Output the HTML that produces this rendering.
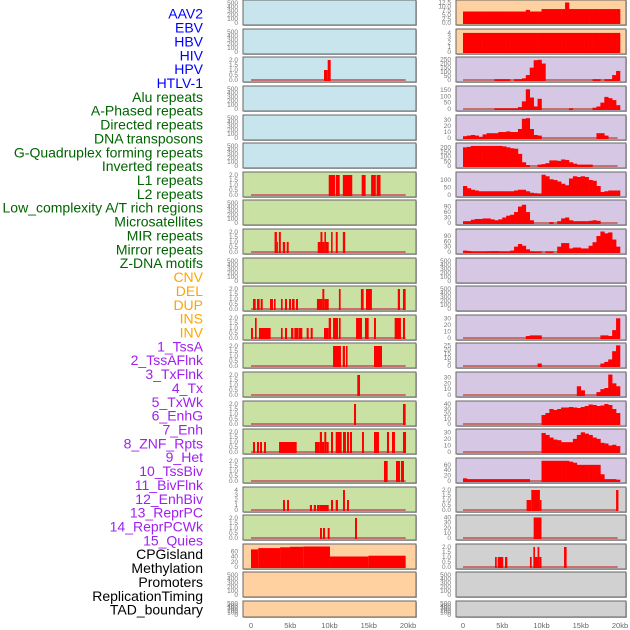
<!DOCTYPE html>
<html><head><meta charset="utf-8"><style>
html,body{margin:0;padding:0;background:#fff;width:630px;height:630px;overflow:hidden}
svg{display:block;font-family:"Liberation Sans",sans-serif}
</style></head><body>
<svg id="chart" width="630" height="630" viewBox="0 0 630 630"></svg>
<script>
// ---- labels ----
const labelNames = ["AAV2","EBV","HBV","HIV","HPV","HTLV-1","Alu repeats","A-Phased repeats","Directed repeats","DNA transposons","G-Quadruplex forming repeats","Inverted repeats","L1 repeats","L2 repeats","Low_complexity A/T rich regions","Microsatellites","MIR repeats","Mirror repeats","Z-DNA motifs","CNV","DEL","DUP","INS","INV","1_TssA","2_TssAFlnk","3_TxFlnk","4_Tx","5_TxWk","6_EnhG","7_Enh","8_ZNF_Rpts","9_Het","10_TssBiv","11_BivFlnk","12_EnhBiv","13_ReprPC","14_ReprPCWk","15_Quies","CPGisland","Methylation","Promoters","ReplicationTiming","TAD_boundary"];
const labelGroups = [0,0,0,0,0,0,1,1,1,1,1,1,1,1,1,1,1,1,1,2,2,2,2,2,3,3,3,3,3,3,3,3,3,3,3,3,3,3,3,4,4,4,4,4];
const groupColors = ["#0000ff","#006400","#ffa500","#a020f0","#000000"];
const xTicks = [0,5,10,15,20];
const xTickLabels = ["0","5kb","10kb","15kb","20kb"];

// ---- left column sparse segments [startKb, endKb, value] ----
const segHIV = [[9.3,9.77,1],[9.77,10.15,2]];
const segL1 = [[9.9,10.7,2],[10.8,11.3,2],[11.7,12.9,2],[14.1,14.6,2],[15.3,15.9,2],[16.0,16.5,2]];
const segMIR = [[3.0,3.3,2],[3.3,3.4,1],[3.55,3.8,2],[4.05,4.35,1],[4.55,4.8,1],[8.5,8.85,1],[8.85,9.1,2],[9.1,9.35,1],[9.35,9.55,2],[9.55,9.9,1],[10.2,10.4,2],[10.8,11.05,2],[11.7,12.0,2]];
const segDEL = [[0.25,0.6,1],[0.76,1.1,1],[1.23,1.49,1],[2.42,2.8,1],[2.93,3.14,1],[3.82,4.03,1],[4.33,4.59,1],[4.84,5.1,1],[5.22,5.56,1],[5.73,5.99,1],[8.4,9.09,1],[9.09,9.34,2],[9.34,9.9,1],[11.2,11.42,2],[14.0,14.35,2],[14.65,15.4,2],[18.7,18.98,2],[19.36,19.7,2]];
const segDUP = [[0,0.25,1],[0.51,0.72,2],[1.02,2.5,1],[3.82,4.03,1],[4.33,4.59,1],[5.1,5.4,1],[5.52,6.07,1],[6.11,6.54,1],[7.09,7.35,1],[7.6,7.86,1],[9.3,9.9,1],[9.9,10.19,2],[10.45,11.08,2],[11.2,11.42,2],[13.38,14.14,2],[14.52,14.99,2],[15.67,15.92,2],[18.3,19.1,2],[19.36,19.62,2]];
const segTssA = [[10.45,11.46,2],[11.68,11.97,2],[12.1,12.3,2],[15.67,16.69,2]];
const segTssAFlnk = [[13.54,13.89,2]];
const segTxFlnk = [[13.12,13.38,2],[19.36,19.7,2]];
const segTx = [[0.25,0.51,1],[0.76,1.02,1],[1.15,1.4,1],[1.66,1.91,1],[3.57,5.82,1],[8.15,8.77,1],[8.77,9.04,2],[9.04,9.34,1],[9.34,9.59,2],[9.59,9.9,1],[10.19,10.45,2],[10.79,11.55,2],[11.72,12.1,2],[12.23,12.48,2],[12.61,12.87,2],[14.14,14.39,2],[15.67,16.3,2],[17.32,17.58,2],[17.96,18.34,2],[19.36,19.75,2]];
const segTxWk = [[16.94,17.41,2],[18.47,18.98,2],[19.1,19.49,2]];
const segEnhG = [[4.08,4.33,2],[4.59,4.84,2],[7.5,7.77,1],[8.0,8.28,1],[8.41,8.7,1],[8.7,9.9,1],[10.19,10.45,2],[10.79,11.08,2],[11.72,11.97,4],[12.23,12.48,2]];
const segEnh = [[8.79,9.04,1],[9.17,9.43,1],[9.77,10.02,1],[13.25,13.5,2]];
const segCPG = [[0,0.93,67],[0.93,3.7,72],[3.7,4.97,75],[4.97,6.67,77],[6.67,10.06,78],[10.06,14.95,40],[14.95,19.7,43]];

// ---- right column binned values (0.5kb bins, 0..20kb) ----
const binAAV2 = [7,7,7,7,7,7,7,7,7,7,7,7,7,7,7,7,8,7,7,7,8.5,8.5,8.5,8.5,8.5,8.5,12.5,8.5,8.5,8.5,8.5,8.5,8.5,8.5,8.5,8.5,8.5,8.5,8.5,8.5];
const binEBV = [4,4,4,4,4,4,4,4,4,4,4,4,4,4,4,4,4,4,4,4,4,4,4,4,4,4,4,4,4,4,4,4,4,4,4,4,4,4,4,4];
const binHBV = [0,0,0,0,0,0,0,0,10,10,10,10,0,10,10,20,60,150,240,245,200,0,0,0,0,0,0,0,0,0,0,0,0,10,10,0,10,10,60,110];
const binHPV = [0,0,0,0,0,0,0,0,5,5,5,5,5,5,15,60,155,90,20,80,0,0,0,0,0,0,0,5,0,0,0,0,0,10,20,50,95,85,70,30];
const binR5 = [3,4,5,4,2,6,8,8,8,10,10,11,10,10,15,32,33,15,5,4,0,0,0,0,0,0,0,0,0,0,0,0,0,0,8,8,4,0,0,0];
const binR6 = [200,205,215,215,215,215,215,215,215,215,210,200,190,185,130,40,10,0,0,15,20,30,60,60,55,70,65,40,25,15,15,15,15,0,0,0,0,0,0,0];
const binR7 = [60,45,35,30,25,25,25,25,25,25,25,25,25,30,35,35,25,15,12,10,135,125,105,100,90,75,65,110,125,120,125,120,100,95,60,20,25,30,30,30];
const binR8 = [10,10,18,22,22,25,25,20,15,20,30,40,45,60,90,100,60,15,0,0,0,0,5,0,10,25,30,15,10,10,10,10,12,15,12,0,0,0,0,0];
const binR9 = [8,6,3,3,3,3,4,5,5,3,3,3,8,30,45,35,15,4,3,3,0,3,3,0,30,50,50,20,25,25,20,20,35,55,90,115,105,110,70,30];
const binR12 = [0,0,0,0,0,0,0,0,0,0,0,0,0,0,0,0,3,4,4,4,0,0,0,0,0,0,0,0,0,0,0,0,0,0,0,4,4,3,12,30];
const binR13 = [0,0,0,0,0,0,0,0,0,0,0,0,0,0,0,0,0,0,0,3,0,0,0,0,0,0,0,0,0,0,0,0,0,0,0,3,5,8,18,25];
const binR14 = [0,0,0,0,0,0,0,0,0,0,0,0,0,0,0,0,0,0,0,0,0,0,0,0,0,0,0,0,0,15,8,0,0,0,5,10,12,35,20,15];
const binR15 = [0,0,0,0,0,0,0,0,0,0,0,0,0,0,0,0,0,0,0,0,18,22,30,28,30,33,33,34,33,32,34,36,39,38,36,37,40,38,30,22];
const binR16 = [0,0,0,0,0,0,0,0,0,0,0,0,0,0,0,0,0,0,0,0,29,26,22,19,18,15,15,15,20,26,30,28,26,22,20,14,13,10,11,9];
const binR17 = [10,7,7,7,7,7,7,7,7,7,7,7,7,7,7,7,7,0,0,0,75,75,75,75,75,75,75,72,68,60,60,60,60,60,60,25,7,7,7,5];
const segR18 = [[8.1,8.7,1],[8.7,9.8,2],[9.8,10.0,1],[19.5,19.8,2]];
const segR19 = [[9.0,10.0,40]];
const segR20 = [[4.08,4.3,1],[4.42,5.13,1],[5.35,5.65,1],[8.53,8.75,1],[8.96,9.17,2],[9.17,9.5,1],[9.5,9.72,2],[9.72,10.0,1],[12.87,13.2,2]];

// ---- tick sets ----
const tEmpty = [0,100,200,300,400,500];
const t2 = [0,0.5,1,1.5,2];
const t2Labels = ["0.0","0.5","1.0","1.5","2.0"];

const rowTops = [0,29,57,86,115,143,172,200,229,258,286,315,343,372,401,429,458,487,515,544,572,601];
const BLUE="#c8e4ec", GREEN="#c9e2a4", LAV="#d6c8e4", PEACH="#ffd1a0", GRAY="#d1d1d1";

function fmt(v){return String(v);}
const panels = [];
for(let r=0;r<22;r++){
  const bg = r<6?BLUE:(r<19?GREEN:PEACH);
  panels.push({col:0,row:r,bg:bg,data:null,type:"seg",max:520,ticks:tEmpty,labels:null});
}
function setL(r,data,max,ticks,labels){Object.assign(panels[r],{data:data,max:max,ticks:ticks,labels:labels});}
setL(2,segHIV,2.1,t2,t2Labels); setL(6,segL1,2.1,t2,t2Labels); setL(8,segMIR,2.1,t2,t2Labels);
setL(10,segDEL,2.1,t2,t2Labels); setL(11,segDUP,2.1,t2,t2Labels); setL(12,segTssA,2.1,t2,t2Labels);
setL(13,segTssAFlnk,2.1,t2,t2Labels); setL(14,segTxFlnk,2.1,t2,t2Labels); setL(15,segTx,2.1,t2,t2Labels);
setL(16,segTxWk,2.1,t2,t2Labels); setL(17,segEnhG,4.2,[0,1,2,3,4],null); setL(18,segEnh,2.1,t2,t2Labels);
setL(19,segCPG,80,[0,20,40,60],null);
const rp = [];
for(let r=0;r<22;r++){
  const bg = r<2?PEACH:(r<17?LAV:GRAY);
  rp.push({col:1,row:r,bg:bg,data:null,type:"bin",max:520,ticks:tEmpty,labels:null});
}
function setR(r,data,type,max,ticks,labels){Object.assign(rp[r],{data:data,type:type,max:max,ticks:ticks,labels:labels});}
setR(0,binAAV2,"bin",12.8,[0,2.5,5,7.5,10,12.5],["0.0","2.5","5.0","7.5","10.0","12.5"]);
setR(1,binEBV,"bin",4.4,[0,1,2,3,4],null);
setR(2,binHBV,"bin",255,[0,50,100,150,200,250],null);
setR(3,binHPV,"bin",165,[0,50,100,150],null);
setR(4,binR5,"bin",35,[0,10,20,30],null);
setR(5,binR6,"bin",225,[0,50,100,150,200],null);
setR(6,binR7,"bin",140,[0,50,100],null);
setR(7,binR8,"bin",115,[0,30,60,90],null);
setR(8,binR9,"bin",118,[0,30,60,90],null);
setR(11,binR12,"bin",32,[0,10,20,30],null);
setR(12,binR13,"bin",25.5,[0,5,10,15,20,25],null);
setR(13,binR14,"bin",36,[0,10,20,30],null);
setR(14,binR15,"bin",42,[0,10,20,30,40],null);
setR(15,binR16,"bin",32,[0,10,20,30],null);
setR(16,binR17,"bin",78,[0,20,40,60],null);
setR(17,segR18,"seg",2.1,t2,t2Labels);
setR(18,segR19,"seg",41,[0,10,20,30,40],null);
setR(19,segR20,"seg",2.1,t2,t2Labels);
rp.forEach(p=>panels.push(p));

const NS="http://www.w3.org/2000/svg";
const svg=document.getElementById("chart");
function mk(tag,attrs,parent){const e=document.createElementNS(NS,tag);for(const k in attrs)e.setAttribute(k,attrs[k]);(parent||svg).appendChild(e);return e;}

labelNames.forEach((t,i)=>{
  const e=mk("text",{x:203,y:15+i*13.86,"text-anchor":"end","dominant-baseline":"middle","font-size":14,fill:groupColors[labelGroups[i]]});
  
  
  e.textContent=t;
});

const cols=[{x0:243,x1:416,k0:251,k1:408},{x0:456,x1:626,k0:463,k1:620}];
panels.forEach(p=>{
  const c=cols[p.col];
  const top=rowTops[p.row];
  const h=p.row===21?16:25;
  const bot=top+h;
  const xs=kb=>c.k0+(c.k1-c.k0)*kb/20;
  const y0=bot-2, y1=top+2;
  const ys=v=>y0-(y0-y1)*Math.min(v,p.max)/p.max;
  const g=mk("g",{});
  
  
  mk("rect",{x:c.x0+1,y:top+1,width:c.x1-c.x0,height:h,fill:"#bbb"},g);
  const bgR=mk("rect",{x:c.x0,y:top,width:c.x1-c.x0,height:h,fill:p.bg,stroke:"#666","stroke-width":1},g);
  
  
  if(p.data){
    mk("line",{x1:xs(0),x2:xs(19.7),y1:y0,y2:y0,stroke:"#c87070","stroke-width":2},g);
    if(p.type==="bin"){
      p.data.forEach((v,i)=>{
        if(v<=0)return;
        const r=mk("rect",{x:xs(i*0.5),y:ys(v),width:xs((i+1)*0.5)-xs(i*0.5)+0.3,height:y0-ys(v)+1,fill:"#ff0000"},g);
        
        
      });
    } else {
      p.data.forEach(s=>{
        const r=mk("rect",{x:xs(s[0]),y:ys(s[2]),width:Math.max(1,xs(s[1])-xs(s[0])),height:y0-ys(s[2])+1,fill:"#ff0000"},g);
        
        
      });
    }
  }
  p.ticks.forEach((t,i)=>{
    const e=mk("text",{x:c.x0-5,y:ys(t)+2,"text-anchor":"end","font-size":6.5,fill:"#777"},g);
    
    
    e.textContent=p.labels?p.labels[i]:fmt(t);
  });
});
cols.forEach(c=>{
  xTicks.forEach((t,i)=>{
    const e=mk("text",{x:c.k0+(c.k1-c.k0)*t/20,y:628,"text-anchor":"middle","font-size":7.5,fill:"#666"});
    
    
    e.textContent=xTickLabels[i];
  });
});
</script>
</body></html>
